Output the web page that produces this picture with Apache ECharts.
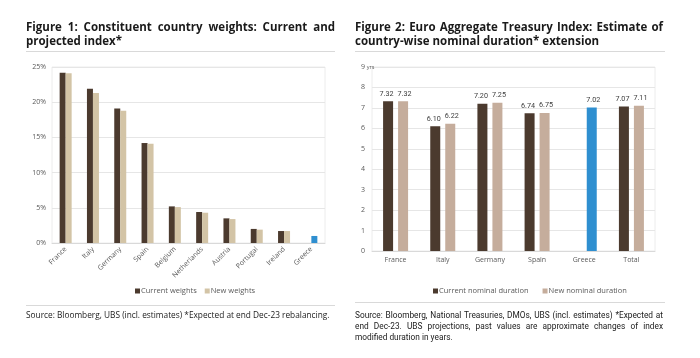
<!DOCTYPE html>
<html><head><meta charset="utf-8">
<script src="https://cdn.jsdelivr.net/npm/echarts@6/dist/echarts.min.js"></script>
<style>html,body{margin:0;padding:0;background:#fff}#c{width:700px;height:358px}</style>
</head><body><div id="c"></div>
<script>
// ---- Data ----
const weightCountries = ['France','Italy','Germany','Spain','Belgium','Netherlands','Austria','Portugal','Ireland','Greece'];
const currentWeights = [24.2, 21.9, 19.1, 14.2, 5.2, 4.4, 3.5, 2.0, 1.7, null];
const newWeights     = [24.1, 21.3, 18.8, 14.1, 5.1, 4.3, 3.4, 1.9, 1.7, 1.0];
const weightTicks = [0, 5, 10, 15, 20, 25];

const durCountries = ['France','Italy','Germany','Spain','Greece','Total'];
const currentDuration = [7.32, 6.10, 7.20, 6.74, null, 7.07];
const newDuration     = [7.32, 6.22, 7.25, 6.75, 7.02, 7.11];
const durTicks = [0,1,2,3,4,5,6,7,8,9];

const highlightCountry = 'Greece';

const C_DARK = '#4b3a2e', C_LIGHT1 = '#d3c4a6', C_LIGHT2 = '#c5ad9c', C_BLUE = '#2f8fd0';
const FONT = '"Open Sans", "DejaVu Sans", sans-serif';
const LFONT = 'Roboto, "Open Sans", sans-serif';

function hl(vals, cats) {
  return vals.map((v, i) => cats[i] === highlightCountry && v != null ? {value: v, itemStyle: {color: C_BLUE}} : (v == null ? '-' : v));
}

// justified text helper
const cv = document.createElement('canvas').getContext('2d');
function justified(text, x1, x2, y, size, weight, justify, family) {
  const font = weight + ' ' + size + 'px ' + (family || FONT);
  cv.font = font;
  const words = text.split(' ');
  const widths = words.map(w => cv.measureText(w).width);
  const total = widths.reduce((a, b) => a + b, 0);
  const space = cv.measureText(' ').width;
  let gap = justify && words.length > 1 ? (x2 - x1 - total) / (words.length - 1) : space;
  if (gap < space * 0.6) gap = space * 0.6;
  const els = [];
  let x = x1;
  words.forEach((w, i) => {
    els.push({type: 'text', x: x, y: y, silent: true,
      style: {text: w, font: font, fill: '#1a1a1a', textVerticalAlign: 'middle', verticalAlign: 'middle'}});
    x += widths[i] + gap;
  });
  return els;
}

const graphics = [].concat(
  justified('Figure 1: Constituent country weights: Current and', 26, 335, 28, 11.5, 'bold', true),
  justified('projected index*', 26, 335, 42, 11.5, 'bold', false),
  justified('Figure 2: Euro Aggregate Treasury Index: Estimate of', 355, 663, 28, 11.5, 'bold', true),
  justified('country-wise nominal duration* extension', 355, 663, 42, 11.5, 'bold', false),
  justified('Source: Bloomberg, UBS (incl. estimates) *Expected at end Dec-23 rebalancing.', 26, 335, 316, 8.3, 'normal', false),
  justified('Source: Bloomberg, National Treasuries, DMOs, UBS (incl. estimates) *Expected at', 355, 663, 316, 8.3, 'normal', true, LFONT),
  justified('end Dec-23. UBS projections, past values are approximate changes of index', 355, 663, 327, 8.3, 'normal', true, LFONT),
  justified('modified duration in years.', 355, 663, 338, 8.3, 'normal', false, LFONT),
  [
    {type: 'line', silent: true, shape: {x1: 26, y1: 51.5, x2: 335, y2: 51.5}, style: {stroke: '#d9d9d9', lineWidth: 1}},
    {type: 'line', silent: true, shape: {x1: 355, y1: 51.5, x2: 665, y2: 51.5}, style: {stroke: '#d9d9d9', lineWidth: 1}},
    {type: 'line', silent: true, shape: {x1: 26, y1: 305.5, x2: 335, y2: 305.5}, style: {stroke: '#d9d9d9', lineWidth: 1}},
    {type: 'line', silent: true, shape: {x1: 355, y1: 302.5, x2: 665, y2: 302.5}, style: {stroke: '#d9d9d9', lineWidth: 1}}
  ]
);

const axisLabelStyle = {color: '#595959', fontSize: 7, fontFamily: FONT};

function barLabel(dx) {
  return {show: true, position: 'top', distance: 4, offset: [dx, 0], fontSize: 7.2, color: '#404040', fontFamily: LFONT,
          formatter: p => Number(p.value).toFixed(2)};
}

const option = {
  animation: false,
  backgroundColor: '#fff',
  graphic: graphics,
  grid: [
    {left: 52, right: 375, top: 67, bottom: 115, show: true, borderColor: '#ececec', borderWidth: 1},
    {left: 372, right: 45, top: 67, bottom: 107, show: true, borderColor: '#ececec', borderWidth: 1}
  ],
  legend: [
    {data: ['Current weights', 'New weights'], left: 130, top: 282, icon: 'rect', itemWidth: 5, itemHeight: 5, itemGap: 8,
     textStyle: {fontSize: 7.5, color: '#595959', fontFamily: FONT, padding: [0, 0, 0, -4]}},
    {data: ['Current nominal duration', 'New nominal duration'], left: 428, top: 282, icon: 'rect', itemWidth: 5, itemHeight: 5, itemGap: 14,
     textStyle: {fontSize: 7.5, color: '#595959', fontFamily: FONT, padding: [0, 0, 0, -4]}}
  ],
  xAxis: [
    {type: 'category', gridIndex: 0, data: weightCountries,
     axisLine: {lineStyle: {color: '#d9d9d9'}}, axisTick: {show: false},
     axisLabel: Object.assign({interval: 0, rotate: 45, margin: 5}, axisLabelStyle)},
    {type: 'category', gridIndex: 1, data: durCountries,
     axisLine: {lineStyle: {color: '#d9d9d9'}}, axisTick: {show: false},
     axisLabel: Object.assign({interval: 0, margin: 5}, axisLabelStyle)}
  ],
  yAxis: [
    {type: 'value', gridIndex: 0, min: weightTicks[0], max: weightTicks[weightTicks.length - 1], interval: 5,
     axisLine: {show: false}, axisTick: {show: false},
     splitLine: {lineStyle: {color: '#e6e6e6'}},
     axisLabel: Object.assign({formatter: '{value}%', margin: 6}, axisLabelStyle)},
    {type: 'value', gridIndex: 1, min: durTicks[0], max: durTicks[durTicks.length - 1], interval: 1,
     axisLine: {show: false}, axisTick: {show: false},
     splitLine: {lineStyle: {color: '#e6e6e6'}},
     axisLabel: Object.assign({
       formatter: v => v === durTicks[durTicks.length - 1] ? '{n|' + v + '} {s|yrs}' : '{n|' + v + '}',
       align: 'left', margin: 11,
       rich: {n: {fontSize: 7, color: '#595959', fontFamily: FONT},
              s: {fontSize: 5.5, color: '#595959', fontFamily: FONT}}}, axisLabelStyle)}
  ],
  series: [
    {name: 'Current weights', type: 'bar', xAxisIndex: 0, yAxisIndex: 0, data: hl(currentWeights, weightCountries),
     itemStyle: {color: C_DARK}, barWidth: 6, barGap: '0%'},
    {name: 'New weights', type: 'bar', xAxisIndex: 0, yAxisIndex: 0, data: hl(newWeights, weightCountries),
     itemStyle: {color: C_LIGHT1}, barWidth: 6, barGap: '0%'},
    {name: 'Current nominal duration', type: 'bar', xAxisIndex: 1, yAxisIndex: 1, data: hl(currentDuration, durCountries),
     itemStyle: {color: C_DARK}, barWidth: 10, barGap: '50%', label: barLabel(-1.5)},
    {name: 'New nominal duration', type: 'bar', xAxisIndex: 1, yAxisIndex: 1, data: hl(newDuration, durCountries),
     itemStyle: {color: C_LIGHT2}, barWidth: 10, barGap: '50%', label: barLabel(1.5)}
  ]
};
const chart = echarts.init(document.getElementById('c'), null, {renderer: 'canvas'});
chart.setOption(option);
</script></body></html>
